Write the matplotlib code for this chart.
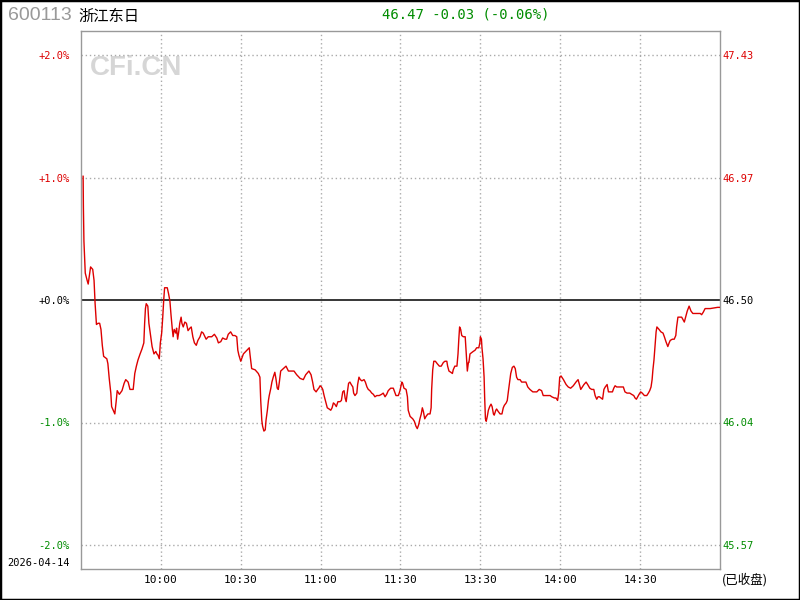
import matplotlib
matplotlib.use("Agg")
import matplotlib.pyplot as plt
from matplotlib.patches import Rectangle

# intraday data (minutes from 09:30, 11:30 and 13:00 share minute 120)
code = "600113"
name = "浙江东日"
trade_date = "2026-04-14"
prev_close = 46.50
last_price = 46.47

minutes = [
    0.8, 0.9, 1.1, 1.6, 2.3, 2.7, 3.3, 3.6, 4.4, 4.9, 5.3, 5.8, 6.4, 7.0, 7.5, 8.0,
    8.5, 9.7, 10.1, 10.6, 11.2, 11.5, 12.1, 12.7, 13.2, 13.6, 14.4, 15.4, 16.2, 16.8,
    17.7, 18.4, 19.6, 20.2, 20.8, 21.4, 22.2, 22.9, 23.6, 23.9, 24.2, 24.5, 25.1, 25.5,
    26.2, 26.7, 27.4, 28.1, 28.5, 28.9, 29.4, 29.8, 30.3, 30.7, 31.1, 31.4, 32.4, 32.9,
    33.4, 33.8, 34.3, 34.6, 35.0, 35.6, 35.9, 36.3, 36.7, 37.1, 37.6, 37.9, 38.4, 39.0,
    39.6, 40.2, 40.9, 41.4, 42.0, 42.6, 43.3, 43.9, 44.7,
    45.3, 45.9, 47.0, 47.8, 49.1, 50.1, 51.0, 51.6, 52.5, 53.2, 54.1, 54.7, 55.3, 56.2,
    57.0, 57.8, 58.5, 58.9, 59.3, 60.0,
    61.0, 62.8, 63.2, 63.5, 63.9, 64.1, 65.4, 66.6, 67.2, 67.5, 67.9, 68.2, 68.7, 69.2,
    69.5, 70.0, 70.4, 70.7, 71.3, 71.7, 72.2, 72.8, 73.2, 73.7, 74.1, 74.5, 75.0, 76.0,
    77.0, 77.9, 79.1, 80.0, 81.0, 82.3, 83.5, 84.4, 85.6, 86.4, 87.0, 87.5, 88.3, 88.9,
    89.3, 89.8, 90.3, 90.8, 91.3, 91.9, 92.5, 93.2, 93.8, 94.3, 94.8, 95.3, 95.9, 96.5,
    97.3, 97.8, 98.3, 98.8, 99.2, 99.6, 100.0, 100.5, 101.0, 101.5, 102.1, 102.4, 102.9,
    103.6, 103.9, 104.4, 104.9, 105.5, 106.3, 106.8, 107.4, 107.9, 108.5, 109.2, 109.8,
    110.4, 111.1, 112.0, 112.9, 113.5, 114.2, 114.8, 115.4, 116.3, 117.3, 117.8, 118.3,
    119.2, 119.8,
    120.5, 120.8, 121.3, 122.1, 122.6, 122.9, 123.6, 124.6, 125.2, 125.8, 126.3, 126.8,
    127.3, 127.8, 128.2, 128.6, 129.1, 129.6, 130.3, 131.1, 131.5, 131.7, 132.1, 132.5,
    133.1, 133.8, 134.6, 135.3, 136.1, 136.7, 137.4, 137.7, 138.2, 138.9, 139.5, 139.8,
    140.4, 141.2, 141.6, 141.9, 142.2, 142.6, 143.0, 143.6, 144.3, 144.7, 145.1, 145.5,
    145.7, 146.1, 146.7, 147.3, 148.0, 148.6, 149.4, 149.8, 150.0, 150.4, 150.6, 151.0,
    151.4, 151.6, 151.9, 152.2, 152.6, 153.0, 153.5, 154.0, 154.4, 154.9, 155.2, 155.8,
    156.1, 156.7, 157.4, 158.1, 158.6, 159.0, 159.7, 160.1, 160.5, 161.0, 161.4, 162.0,
    162.6, 163.1, 163.6, 164.1, 164.9, 165.5, 166.4, 167.1, 167.8, 168.6, 169.7, 170.5,
    171.2, 172.1, 173.0, 173.6, 174.9, 176.2, 176.8, 177.8, 178.4, 179.0, 179.4, 179.8,
    180.3, 181.2, 182.2, 183.0, 183.9, 184.9, 185.9, 186.7, 187.2, 187.7, 188.3, 188.9,
    189.7, 190.3, 191.1, 191.8, 192.6, 193.1, 193.7, 194.2, 194.7, 195.3, 195.9, 196.4,
    196.9, 197.6, 198.1, 198.7, 199.6, 200.1, 200.6, 201.2, 202.1, 203.1, 203.7, 204.3,
    205.1, 206.1, 206.8, 207.6, 208.1, 208.6, 209.1, 209.6, 210.2, 210.8, 211.6, 212.5,
    213.1, 213.6, 214.1, 214.5, 214.8, 215.2, 215.6, 216.0, 216.3, 217.1, 217.8, 218.6,
    219.1, 219.7, 220.4, 220.9, 221.3, 222.1, 222.8, 223.4, 223.7, 224.2, 225.0, 225.6,
    226.1, 226.6, 227.1, 227.7, 228.4, 229.1, 229.8, 230.6, 231.9, 232.6, 233.1, 233.7,
    234.4, 236.3, 239.1, 240.0,
]
pct_chg = [
    1.01, 0.76, 0.48, 0.22, 0.16, 0.13, 0.22, 0.27, 0.25, 0.16, -0.03, -0.20, -0.19, -0.19, -0.24, -0.37,
    -0.46, -0.48, -0.52, -0.64, -0.76, -0.87, -0.90, -0.93, -0.83, -0.74, -0.77, -0.74, -0.68, -0.65,
    -0.67, -0.73, -0.73, -0.60, -0.54, -0.49, -0.44, -0.40, -0.35, -0.19, -0.07, -0.03, -0.05, -0.19,
    -0.30, -0.38, -0.44, -0.42, -0.44, -0.45, -0.48, -0.35, -0.27, -0.14, 0.01, 0.10, 0.10, 0.05,
    -0.01, -0.12, -0.24, -0.30, -0.24, -0.27, -0.23, -0.32, -0.26, -0.19, -0.14, -0.19, -0.22, -0.18,
    -0.19, -0.25, -0.23, -0.22, -0.30, -0.35, -0.37, -0.33, -0.30,
    -0.26, -0.27, -0.32, -0.30, -0.30, -0.28, -0.31, -0.35, -0.34, -0.31, -0.32, -0.32, -0.28, -0.26,
    -0.29, -0.29, -0.30, -0.41, -0.45, -0.50,
    -0.44, -0.40, -0.39, -0.45, -0.52, -0.56, -0.57, -0.60, -0.63, -0.82, -0.98, -1.03, -1.07, -1.06,
    -0.98, -0.90, -0.82, -0.78, -0.72, -0.67, -0.63, -0.59, -0.64, -0.72, -0.73, -0.67, -0.58, -0.56,
    -0.54, -0.58, -0.58, -0.58, -0.61, -0.64, -0.65, -0.61, -0.58, -0.61, -0.67, -0.73, -0.75, -0.73,
    -0.72, -0.70, -0.71, -0.73, -0.78, -0.83, -0.88, -0.89, -0.90, -0.88, -0.84, -0.85, -0.87, -0.83,
    -0.83, -0.82, -0.75, -0.74, -0.80, -0.83, -0.76, -0.68, -0.67, -0.69, -0.71, -0.76, -0.78,
    -0.76, -0.69, -0.63, -0.65, -0.66, -0.65, -0.67, -0.71, -0.73, -0.74, -0.76, -0.77,
    -0.79, -0.78, -0.78, -0.77, -0.76, -0.79, -0.77, -0.74, -0.72, -0.72, -0.75, -0.78,
    -0.78, -0.74,
    -0.67, -0.68, -0.72, -0.73, -0.79, -0.90, -0.95, -0.97, -0.99, -1.03, -1.05, -1.02,
    -0.97, -0.93, -0.88, -0.91, -0.97, -0.95, -0.93, -0.93, -0.88, -0.73, -0.57, -0.50,
    -0.50, -0.52, -0.54, -0.54, -0.51, -0.50, -0.50, -0.54, -0.58, -0.59, -0.60, -0.57,
    -0.54, -0.54, -0.44, -0.32, -0.22, -0.24, -0.29, -0.30, -0.30, -0.44, -0.58, -0.51,
    -0.51, -0.44, -0.43, -0.42, -0.41, -0.39, -0.39, -0.35, -0.30, -0.32, -0.39, -0.48,
    -0.63, -0.79, -0.97, -0.99, -0.95, -0.90, -0.87, -0.85, -0.87, -0.93, -0.94, -0.90,
    -0.89, -0.91, -0.93, -0.93, -0.88, -0.86, -0.84, -0.82, -0.75, -0.67, -0.60, -0.55,
    -0.54, -0.56, -0.63, -0.65, -0.65, -0.67, -0.67, -0.67, -0.71, -0.73, -0.75, -0.75,
    -0.75, -0.73, -0.74, -0.78, -0.78, -0.78, -0.79, -0.80, -0.80, -0.82, -0.76, -0.63,
    -0.62, -0.65, -0.69, -0.71, -0.72, -0.70, -0.67, -0.65, -0.69, -0.73, -0.71, -0.69,
    -0.67, -0.69, -0.72, -0.73, -0.73, -0.78, -0.81, -0.79, -0.79, -0.80, -0.81, -0.73,
    -0.71, -0.69, -0.75, -0.75, -0.75, -0.72, -0.70, -0.71, -0.71, -0.71, -0.71, -0.75,
    -0.76, -0.76, -0.77, -0.78, -0.80, -0.81, -0.79, -0.77, -0.75, -0.76, -0.78, -0.78,
    -0.76, -0.74, -0.71, -0.65, -0.57, -0.49, -0.37, -0.26, -0.22, -0.24, -0.26, -0.27,
    -0.30, -0.34, -0.38, -0.35, -0.33, -0.32, -0.32, -0.29, -0.22, -0.14, -0.14, -0.14,
    -0.16, -0.18, -0.14, -0.09, -0.05, -0.09, -0.11, -0.11, -0.11, -0.11, -0.12, -0.10,
    -0.07, -0.07, -0.06, -0.06,
]

pct_ticks = [2, 1, 0, -1, -2]
pct_labels = ["+2.0%", "+1.0%", "+0.0%", "-1.0%", "-2.0%"]
price_labels = ["47.43", "46.97", "46.50", "46.04", "45.57"]
time_ticks = [30, 60, 90, 120, 150, 180, 210]
time_labels = ["10:00", "10:30", "11:00", "11:30", "13:30", "14:00", "14:30"]

RED = "#dd0000"
GREEN = "#008c00"
GRID = "#aaaaaa"
mono = "DejaVu Sans Mono"
cjk = ["Noto Sans CJK SC", "DejaVu Sans"]

def tick_color(v):
    if v > 0:
        return RED
    if v < 0:
        return GREEN
    return "black"

fig = plt.figure(figsize=(8, 6), dpi=100)
fig.patch.set_facecolor("white")
ax = fig.add_axes([81 / 800, 1 - 569 / 600, 639 / 800, 538 / 600])

lim = 2 + 24 / 122.5
ax.set_xlim(0, 240)
ax.set_ylim(-lim, lim)

for v in pct_ticks:
    if v != 0:
        ax.axhline(v, color=GRID, lw=1, ls=(0, (1, 2)), zorder=1)
for t in time_ticks:
    ax.axvline(t, color=GRID, lw=1, ls=(0, (1, 2)), zorder=1)
ax.axhline(0, color="black", lw=1.1, zorder=2)

ax.plot(minutes, pct_chg, color=RED, lw=1.0, zorder=3)

for s in ax.spines.values():
    s.set_color("#999999")
    s.set_linewidth(1)

ax.set_yticks(pct_ticks)
ax.set_yticklabels(pct_labels, fontfamily=mono, fontsize=7.5)
for lbl, v in zip(ax.get_yticklabels(), pct_ticks):
    lbl.set_color(tick_color(v))
ax.set_xticks(time_ticks)
ax.set_xticklabels(time_labels, fontfamily=mono, fontsize=8)
ax.tick_params(axis="both", length=0)
ax.tick_params(axis="y", pad=8)
ax.tick_params(axis="x", pad=4)

ax2 = ax.twinx()
ax2.set_ylim(-lim, lim)
ax2.set_yticks(pct_ticks)
ax2.set_yticklabels(price_labels, fontfamily=mono, fontsize=7.5)
for lbl, v in zip(ax2.get_yticklabels(), pct_ticks):
    lbl.set_color(tick_color(v))
ax2.tick_params(axis="y", length=0, pad=2)
for s in ax2.spines.values():
    s.set_visible(False)

# watermark
ax.text(0.014, 0.955, "CFi.CN", transform=ax.transAxes, fontfamily="Liberation Sans",
        fontweight="bold", fontsize=20, color="#d6d6d6", va="top", ha="left", zorder=0)

# header
change = last_price - prev_close
change_pct = change / prev_close * 100
fig.text(8 / 800, 1 - 16 / 600, code, fontfamily="Liberation Sans", fontsize=14,
         color="#999999", va="center", ha="left")
fig.text(78 / 800, 1 - 16 / 600, name, fontfamily=cjk, fontsize=11,
         color="black", va="center", ha="left")
fig.text(466 / 800, 1 - 15 / 600, f"{last_price:.2f} {change:+.2f} ({change_pct:+.2f}%)",
         fontfamily=mono, fontsize=10, color=GREEN, va="center", ha="center")

fig.text(7 / 800, 1 - 563 / 600, trade_date, fontfamily=mono, fontsize=7.5,
         color="black", va="center", ha="left")
fig.text(722 / 800, 1 - 580 / 600, "(已收盘)", fontfamily=cjk, fontsize=9,
         color="black", va="center", ha="left")

fig.patches.append(Rectangle((0, 0), 1, 1, transform=fig.transFigure, fill=False,
                             edgecolor="black", lw=2.5, zorder=10))

fig.savefig("out.png", dpi=100)
